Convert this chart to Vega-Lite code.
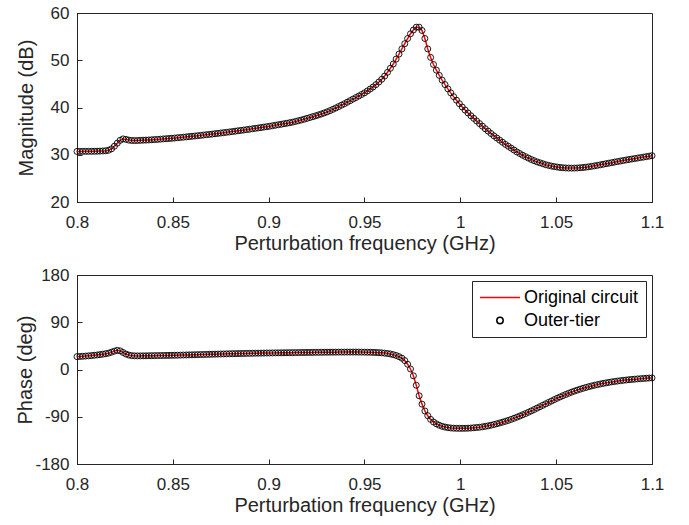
{
 "$schema": "https://vega.github.io/schema/vega-lite/v6.json",
 "background": "white",
 "padding": {"left": 15, "top": 3, "right": 5, "bottom": 5},
 "spacing": 11,
 "resolve": {"scale": {"color": "independent"}, "legend": {"color": "independent"}},
 "datasets": {"d": [
{"f":0.8,"m":30.7,"p":24.5},{"f":0.8015,"m":30.7,"p":24.8},{"f":0.803,"m":30.71,"p":25.2},{"f":0.8045,"m":30.72,"p":25.6},{"f":0.806,"m":30.72,"p":26.0},{"f":0.8075,"m":30.73,"p":26.5},{"f":0.809,"m":30.74,"p":27.1},{"f":0.8105,"m":30.75,"p":27.7},{"f":0.812,"m":30.77,"p":28.4},{"f":0.8135,"m":30.8,"p":29.2},
{"f":0.815,"m":30.85,"p":30.1},{"f":0.8165,"m":30.95,"p":31.2},{"f":0.818,"m":31.25,"p":33.0},{"f":0.8195,"m":31.8,"p":35.0},{"f":0.821,"m":32.45,"p":36.5},{"f":0.8225,"m":33.05,"p":35.5},{"f":0.824,"m":33.35,"p":32.5},{"f":0.8255,"m":33.25,"p":29.5},{"f":0.827,"m":33.1,"p":27.5},{"f":0.8285,"m":33.02,"p":26.4},
{"f":0.83,"m":33.0,"p":26.0},{"f":0.8315,"m":33.02,"p":25.9},{"f":0.833,"m":33.05,"p":25.9},{"f":0.8345,"m":33.08,"p":26.0},{"f":0.836,"m":33.1,"p":26.1},{"f":0.8375,"m":33.13,"p":26.2},{"f":0.839,"m":33.17,"p":26.3},{"f":0.8405,"m":33.21,"p":26.4},{"f":0.842,"m":33.25,"p":26.5},{"f":0.8435,"m":33.3,"p":26.6},
{"f":0.845,"m":33.35,"p":26.7},{"f":0.8465,"m":33.39,"p":26.8},{"f":0.848,"m":33.44,"p":26.9},{"f":0.8495,"m":33.48,"p":27.0},{"f":0.851,"m":33.54,"p":27.1},{"f":0.8525,"m":33.6,"p":27.25},{"f":0.854,"m":33.66,"p":27.4},{"f":0.8555,"m":33.72,"p":27.55},{"f":0.857,"m":33.78,"p":27.7},{"f":0.8585,"m":33.84,"p":27.85},
{"f":0.86,"m":33.9,"p":28.0},{"f":0.8615,"m":33.97,"p":28.15},{"f":0.863,"m":34.03,"p":28.3},{"f":0.8645,"m":34.1,"p":28.45},{"f":0.866,"m":34.17,"p":28.6},{"f":0.8675,"m":34.24,"p":28.75},{"f":0.869,"m":34.3,"p":28.9},{"f":0.8705,"m":34.37,"p":29.05},{"f":0.872,"m":34.45,"p":29.2},{"f":0.8735,"m":34.52,"p":29.35},
{"f":0.875,"m":34.6,"p":29.5},{"f":0.8765,"m":34.67,"p":29.65},{"f":0.878,"m":34.75,"p":29.8},{"f":0.8795,"m":34.82,"p":29.95},{"f":0.881,"m":34.9,"p":30.1},{"f":0.8825,"m":34.99,"p":30.2},{"f":0.884,"m":35.07,"p":30.3},{"f":0.8855,"m":35.15,"p":30.45},{"f":0.887,"m":35.23,"p":30.55},{"f":0.8885,"m":35.32,"p":30.7},
{"f":0.89,"m":35.4,"p":30.8},{"f":0.8915,"m":35.49,"p":30.9},{"f":0.893,"m":35.58,"p":31.0},{"f":0.8945,"m":35.67,"p":31.1},{"f":0.896,"m":35.76,"p":31.2},{"f":0.8975,"m":35.85,"p":31.3},{"f":0.899,"m":35.94,"p":31.4},{"f":0.9005,"m":36.03,"p":31.45},{"f":0.902,"m":36.14,"p":31.55},{"f":0.9035,"m":36.24,"p":31.65},
{"f":0.905,"m":36.35,"p":31.7},{"f":0.9065,"m":36.45,"p":31.8},{"f":0.908,"m":36.56,"p":31.9},{"f":0.9095,"m":36.67,"p":31.95},{"f":0.911,"m":36.78,"p":32.05},{"f":0.9125,"m":36.9,"p":32.1},{"f":0.914,"m":37.05,"p":32.2},{"f":0.9155,"m":37.2,"p":32.25},{"f":0.917,"m":37.35,"p":32.35},{"f":0.9185,"m":37.52,"p":32.4},
{"f":0.92,"m":37.7,"p":32.5},{"f":0.9215,"m":37.88,"p":32.55},{"f":0.923,"m":38.06,"p":32.6},{"f":0.9245,"m":38.24,"p":32.7},{"f":0.926,"m":38.43,"p":32.75},{"f":0.9275,"m":38.63,"p":32.8},{"f":0.929,"m":38.85,"p":32.85},{"f":0.9305,"m":39.08,"p":32.9},{"f":0.932,"m":39.34,"p":32.95},{"f":0.9335,"m":39.61,"p":33.0},
{"f":0.935,"m":39.9,"p":33.05},{"f":0.9365,"m":40.19,"p":33.1},{"f":0.938,"m":40.49,"p":33.1},{"f":0.9395,"m":40.8,"p":33.15},{"f":0.941,"m":41.12,"p":33.2},{"f":0.9425,"m":41.45,"p":33.2},{"f":0.944,"m":41.78,"p":33.2},{"f":0.9455,"m":42.1,"p":33.2},{"f":0.947,"m":42.43,"p":33.15},{"f":0.9485,"m":42.76,"p":33.1},
{"f":0.95,"m":43.1,"p":33.0},{"f":0.9515,"m":43.5,"p":32.9},{"f":0.953,"m":43.92,"p":32.8},{"f":0.9545,"m":44.35,"p":32.6},{"f":0.956,"m":44.85,"p":32.4},{"f":0.9575,"m":45.4,"p":32.1},{"f":0.959,"m":45.98,"p":31.7},{"f":0.9605,"m":46.65,"p":31.2},{"f":0.962,"m":47.45,"p":30.5},{"f":0.9635,"m":48.3,"p":29.6},
{"f":0.965,"m":49.2,"p":28.3},{"f":0.9665,"m":50.25,"p":26.7},{"f":0.968,"m":51.3,"p":24.5},{"f":0.9695,"m":52.4,"p":21.5},{"f":0.971,"m":53.5,"p":17.0},{"f":0.9725,"m":54.6,"p":10.0},{"f":0.974,"m":55.6,"p":1.0},{"f":0.9755,"m":56.4,"p":-12},{"f":0.977,"m":57.0,"p":-30},{"f":0.9785,"m":57.0,"p":-50},
{"f":0.98,"m":56.3,"p":-66},{"f":0.9815,"m":54.6,"p":-79},{"f":0.983,"m":52.4,"p":-88},{"f":0.9845,"m":50.6,"p":-95},{"f":0.986,"m":49.1,"p":-100},{"f":0.9875,"m":47.9,"p":-103.5},{"f":0.989,"m":46.8,"p":-106.2},{"f":0.9905,"m":45.8,"p":-108.2},{"f":0.992,"m":44.85,"p":-109.7},{"f":0.9935,"m":43.95,"p":-110.7},
{"f":0.995,"m":43.1,"p":-111.4},{"f":0.9965,"m":42.3,"p":-111.8},{"f":0.998,"m":41.55,"p":-112.0},{"f":0.9995,"m":40.8,"p":-112.1},{"f":1.001,"m":40.1,"p":-112.1},{"f":1.0025,"m":39.45,"p":-112.0},{"f":1.004,"m":38.85,"p":-111.8},{"f":1.0055,"m":38.25,"p":-111.5},{"f":1.007,"m":37.7,"p":-111.0},{"f":1.0085,"m":37.15,"p":-110.5},
{"f":1.01,"m":36.6,"p":-110.0},{"f":1.0115,"m":36.05,"p":-109.2},{"f":1.013,"m":35.5,"p":-108.3},{"f":1.0145,"m":35.0,"p":-107.3},{"f":1.016,"m":34.5,"p":-106.1},{"f":1.0175,"m":34.0,"p":-104.8},{"f":1.019,"m":33.55,"p":-103.4},{"f":1.0205,"m":33.1,"p":-101.9},{"f":1.022,"m":32.65,"p":-100.3},{"f":1.0235,"m":32.2,"p":-98.7},
{"f":1.025,"m":31.8,"p":-97.0},{"f":1.0265,"m":31.4,"p":-95.0},{"f":1.028,"m":31.0,"p":-93.0},{"f":1.0295,"m":30.6,"p":-90.8},{"f":1.031,"m":30.25,"p":-88.6},{"f":1.0325,"m":29.9,"p":-86.3},{"f":1.034,"m":29.6,"p":-84.0},{"f":1.0355,"m":29.3,"p":-81.5},{"f":1.037,"m":29.0,"p":-78.9},{"f":1.0385,"m":28.75,"p":-76.3},
{"f":1.04,"m":28.5,"p":-73.6},{"f":1.0415,"m":28.3,"p":-70.9},{"f":1.043,"m":28.1,"p":-68.2},{"f":1.0445,"m":27.9,"p":-65.5},{"f":1.046,"m":27.75,"p":-62.8},{"f":1.0475,"m":27.6,"p":-60.1},{"f":1.049,"m":27.5,"p":-57.4},{"f":1.0505,"m":27.4,"p":-54.8},{"f":1.052,"m":27.3,"p":-52.3},{"f":1.0535,"m":27.25,"p":-49.9},
{"f":1.055,"m":27.2,"p":-47.5},{"f":1.0565,"m":27.18,"p":-45.3},{"f":1.058,"m":27.17,"p":-43.2},{"f":1.0595,"m":27.18,"p":-41.2},{"f":1.061,"m":27.2,"p":-39.3},{"f":1.0625,"m":27.25,"p":-37.5},{"f":1.064,"m":27.3,"p":-35.8},{"f":1.0655,"m":27.37,"p":-34.2},{"f":1.067,"m":27.45,"p":-32.7},{"f":1.0685,"m":27.55,"p":-31.3},
{"f":1.07,"m":27.65,"p":-30.0},{"f":1.0715,"m":27.76,"p":-28.8},{"f":1.073,"m":27.87,"p":-27.6},{"f":1.0745,"m":27.98,"p":-26.5},{"f":1.076,"m":28.1,"p":-25.5},{"f":1.0775,"m":28.22,"p":-24.5},{"f":1.079,"m":28.33,"p":-23.6},{"f":1.0805,"m":28.45,"p":-22.8},{"f":1.082,"m":28.56,"p":-22.0},{"f":1.0835,"m":28.67,"p":-21.3},
{"f":1.085,"m":28.78,"p":-20.6},{"f":1.0865,"m":28.89,"p":-20.0},{"f":1.088,"m":29.0,"p":-19.4},{"f":1.0895,"m":29.1,"p":-18.9},{"f":1.091,"m":29.2,"p":-18.4},{"f":1.0925,"m":29.3,"p":-17.9},{"f":1.094,"m":29.4,"p":-17.5},{"f":1.0955,"m":29.5,"p":-17.1},{"f":1.097,"m":29.6,"p":-16.7},{"f":1.0985,"m":29.7,"p":-16.3},
{"f":1.1,"m":29.8,"p":-16.0}
 ]},
 "vconcat": [
  {
   "width": 575, "height": 189,
   "data": {"name": "d"},
   "layer": [
    {"mark": {"type": "line", "color": "#ff0000", "strokeWidth": 1.5},
     "encoding": {
      "x": {"field": "f", "type": "quantitative", "scale": {"domain": [0.8, 1.1], "nice": false, "zero": false},
            "axis": {"values": [0.8, 0.85, 0.9, 0.95, 1, 1.05, 1.1], "format": "~g", "title": "Perturbation frequency (GHz)"}},
      "y": {"field": "m", "type": "quantitative", "scale": {"domain": [20, 60], "nice": false, "zero": false},
            "axis": {"values": [20, 30, 40, 50, 60], "title": "Magnitude (dB)", "titlePadding": 14}}
     }},
    {"mark": {"type": "point", "shape": "circle", "filled": false, "color": "#000000", "size": 36, "strokeWidth": 0.9, "opacity": 1},
     "encoding": {
      "x": {"field": "f", "type": "quantitative"},
      "y": {"field": "m", "type": "quantitative"}
     }}
   ]
  },
  {
   "width": 575, "height": 189,
   "data": {"name": "d"},
   "layer": [
    {"mark": {"type": "line", "strokeWidth": 1.5},
     "encoding": {
      "x": {"field": "f", "type": "quantitative", "scale": {"domain": [0.8, 1.1], "nice": false, "zero": false},
            "axis": {"values": [0.8, 0.85, 0.9, 0.95, 1, 1.05, 1.1], "format": "~g", "title": "Perturbation frequency (GHz)"}},
      "y": {"field": "p", "type": "quantitative", "scale": {"domain": [-180, 180], "nice": false, "zero": false},
            "axis": {"values": [-180, -90, 0, 90, 180], "labelExpr": "toString(datum.value)", "title": "Phase (deg)", "titlePadding": -1}},
      "color": {"datum": "Original circuit", "type": "nominal",
                "scale": {"domain": ["Original circuit", "Outer-tier"], "range": ["#ff0000", "#000000"]},
                "legend": {"title": null, "orient": "top-right", "offset": 6, "padding": 7,
                           "strokeColor": "#262626", "fillColor": "white",
                           "labelFont": "Liberation Sans", "labelFontSize": 18, "labelColor": "#000000",
                           "symbolSize": 1600, "symbolStrokeWidth": 1.5, "symbolStrokeColor": "#ff0000",
                           "clipHeight": 19, "labelOffset": 3, "rowPadding": 4,
                           "labelExpr": "datum.label + '\u00a0\u00a0\u00a0\u00a0\u00a0\u00a0\u00a0'",
                           "encode": {"symbols": {"update": {
                             "shape": {"signal": "datum.value === 'Original circuit' ? 'stroke' : 'M0.16,0A0.16,0.16,0,1,1,-0.16,0A0.16,0.16,0,1,1,0.16,0Z'"},
                             "stroke": [{"test": "datum.value === 'Original circuit'", "value": "#ff0000"}, {"value": "#000000"}],
                             "strokeWidth": {"value": 1.5},
                             "strokeOpacity": {"value": 1},
                             "fill": {"value": "transparent"},
                             "opacity": {"value": 1}
                           }}}}}
     }},
    {"mark": {"type": "point", "shape": "circle", "filled": false, "size": 36, "strokeWidth": 0.9, "opacity": 1},
     "encoding": {
      "x": {"field": "f", "type": "quantitative"},
      "y": {"field": "p", "type": "quantitative"},
      "color": {"datum": "Outer-tier", "type": "nominal"}
     }}
   ]
  }
 ],
 "config": {
  "font": "Liberation Sans",
  "view": {"stroke": "#262626", "strokeWidth": 1},
  "axis": {
   "grid": false,
   "labelFont": "Liberation Sans", "labelFontSize": 17, "labelColor": "#262626",
   "titleFont": "Liberation Sans", "titleFontSize": 20, "titleFontWeight": "normal", "titleColor": "#262626",
   "domainColor": "#262626", "tickColor": "#262626", "tickSize": -5, "labelFlush": false, "labelOverlap": false
  },
  "axisX": {"labelPadding": 17, "titlePadding": 3},
  "axisY": {"labelPadding": 13}
 }
}
